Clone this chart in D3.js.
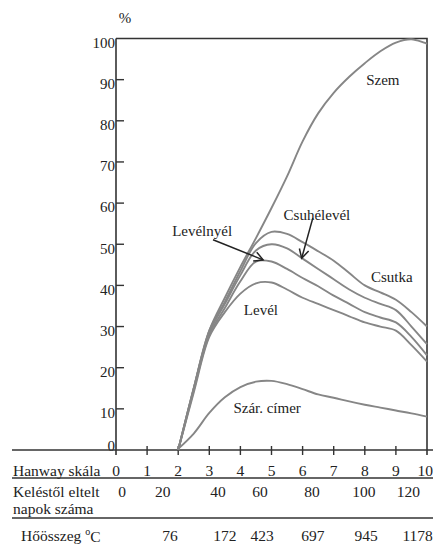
<!DOCTYPE html>
<html>
<head>
<meta charset="utf-8">
<script src="https://cdn.jsdelivr.net/npm/d3@7"></script>
<style>
body { margin: 0; background: #fff; }
text { font-family: "Liberation Serif", "DejaVu Serif", serif; fill: #222; }
</style>
</head>
<body>
<svg id="chart" width="433" height="544"></svg>
<script>
// Hanway growth stages, x positions of the curve samples
var stages = [2, 2.5, 3, 3.5, 4, 4.5, 5, 5.5, 6, 6.5, 7, 7.5, 8, 8.5, 9, 9.5, 10];

var szem       = [0, 15, 29, 37, 44.5, 51.5, 58.8, 66.5, 75, 81.8, 86.8, 90.7, 94, 96.9, 99, 99.8, 98.7];
var csutka     = [0, 15, 29, 36, 43.5, 50.3, 53, 52.5, 50.5, 48.3, 46, 43, 40, 38.3, 36.5, 33.5, 30];
var csuhelevel = [0, 15, 28.5, 35.5, 42.5, 48.5, 50, 49, 46.5, 44, 41.5, 39, 37, 35.5, 34, 30, 25.7];
var levelnyel  = [0, 14.5, 28, 34.5, 41, 45.8, 45.8, 44, 41.8, 39.8, 37.5, 35.5, 33.5, 32.2, 31, 27.5, 23];
var level      = [0, 14, 27.5, 33.5, 38, 40.5, 40.7, 39, 37, 35.5, 34, 32.5, 31, 30, 29, 25.5, 21.5];
var szarcimer  = [0.3, 4, 9, 12.8, 15.3, 16.6, 16.8, 16, 14.8, 13.5, 12.7, 11.8, 11, 10.3, 9.6, 8.9, 8.1];

var yTicks = [0, 10, 20, 30, 40, 50, 60, 70, 80, 90, 100];
var hanwayTicks = [0, 1, 2, 3, 4, 5, 6, 7, 8, 9, 10];

// days after emergence and heat sum, with the Hanway stage they stand under
var days = [0, 20, 40, 60, 80, 100, 120];
var daysStage = [0.2, 1.5, 3.28, 4.63, 6.3, 7.97, 9.4];
var heat = [76, 172, 423, 697, 945, 1178];
var heatStage = [1.74, 3.5, 4.7, 6.33, 8.04, 9.7];

// curve labels: [text, stage, percent]
var labels = [
	["Szem", 8.58, 90],
	["Csuhélevél", 6.46, 57.2],
	["Levélnyél", 2.77, 53.3],
	["Csutka", 8.87, 42.1],
	["Levél", 4.66, 34.1],
	["Szár. címer", 4.86, 10.2]
];
// arrows: [from stage, from %, to stage, to %]
var arrows = [
	[3.12, 51.1, 4.73, 46.2],
	[6.33, 56.4, 5.97, 46.6]
];

var svg = d3.select("#chart");
var x = d3.scaleLinear().domain([0, 10]).range([116, 427]);
var y = d3.scaleLinear().domain([0, 100]).range([450, 38.5]);
var axisColor = "#333";

// frame: top and right
svg.append("path")
	.attr("d", "M" + x(0) + "," + y(100) + "H" + x(10) + "V" + (y(0) + 5))
	.attr("fill", "none").attr("stroke", axisColor).attr("stroke-width", 1.6);

// y axis
svg.append("line")
	.attr("x1", x(0)).attr("x2", x(0)).attr("y1", y(100)).attr("y2", y(0) + 5)
	.attr("stroke", axisColor).attr("stroke-width", 1.6);
svg.selectAll("line.ytick").data(yTicks.filter(function(d) { return d > 0 && d < 100; }))
	.enter().append("line").attr("class", "ytick")
	.attr("x1", x(0)).attr("x2", x(0) + 8)
	.attr("y1", function(d) { return y(d); }).attr("y2", function(d) { return y(d); })
	.attr("stroke", axisColor).attr("stroke-width", 1.4);
svg.selectAll("text.ylab").data(yTicks)
	.enter().append("text").attr("class", "ylab")
	.attr("x", x(0) - 1)
	.attr("y", function(d) { return d === 0 ? y(d) - 4 : y(d) + 4; })
	.attr("dy", "0.35em")
	.attr("text-anchor", "end")
	.attr("font-size", 15)
	.text(function(d) { return d; });
svg.append("text").attr("x", 125).attr("y", 18).attr("dy", "0.35em")
	.attr("text-anchor", "middle").attr("font-size", 15).text("%");

// x axis line and cross ticks
svg.append("line")
	.attr("x1", 12).attr("x2", 433).attr("y1", y(0)).attr("y2", y(0))
	.attr("stroke", axisColor).attr("stroke-width", 1.6);
svg.selectAll("line.xtick").data(hanwayTicks.slice(1, 10))
	.enter().append("line").attr("class", "xtick")
	.attr("x1", function(d) { return x(d); }).attr("x2", function(d) { return x(d); })
	.attr("y1", y(0) - 4).attr("y2", y(0) + 5)
	.attr("stroke", axisColor).attr("stroke-width", 1.4);

// curves
var line = d3.line()
	.x(function(d, i) { return x(stages[i]); })
	.y(function(d) { return y(d); })
	.curve(d3.curveCatmullRom.alpha(0.5));
[szem, csutka, csuhelevel, levelnyel, level, szarcimer].forEach(function(s) {
	svg.append("path").datum(s)
		.attr("d", line)
		.attr("fill", "none")
		.attr("stroke", "#868686")
		.attr("stroke-width", 1.9);
});

// curve labels
svg.selectAll("text.clab").data(labels)
	.enter().append("text").attr("class", "clab")
	.attr("x", function(d) { return x(d[1]); })
	.attr("y", function(d) { return y(d[2]); })
	.attr("dy", "0.35em")
	.attr("text-anchor", "middle")
	.attr("font-size", 15)
	.text(function(d) { return d[0]; });

// arrows with open heads
arrows.forEach(function(a) {
	var x1 = x(a[0]), y1 = y(a[1]), x2 = x(a[2]), y2 = y(a[3]);
	var ang = Math.atan2(y2 - y1, x2 - x1);
	var head = 10, spread = 0.5;
	svg.append("line")
		.attr("x1", x1).attr("y1", y1).attr("x2", x2).attr("y2", y2)
		.attr("stroke", "#222").attr("stroke-width", 1.5);
	svg.append("path")
		.attr("d", "M" + (x2 - head * Math.cos(ang - spread)) + "," + (y2 - head * Math.sin(ang - spread)) +
			"L" + x2 + "," + y2 +
			"L" + (x2 - head * Math.cos(ang + spread)) + "," + (y2 - head * Math.sin(ang + spread)))
		.attr("fill", "none").attr("stroke", "#222").attr("stroke-width", 1.5);
});

// table rows under the axis
var rowFont = 15.5;
svg.append("text").attr("x", 13).attr("y", 471).attr("dy", "0.35em")
	.attr("font-size", rowFont).text("Hanway skála");
svg.selectAll("text.hlab").data(hanwayTicks)
	.enter().append("text").attr("class", "hlab")
	.attr("x", function(d) { return d === 10 ? 433 : x(d); }).attr("y", 471).attr("dy", "0.35em")
	.attr("text-anchor", function(d) { return d === 10 ? "end" : "middle"; })
	.attr("font-size", rowFont)
	.text(function(d) { return d; });
svg.append("line").attr("x1", 12).attr("x2", 433).attr("y1", 478).attr("y2", 478)
	.attr("stroke", axisColor).attr("stroke-width", 1.4);

svg.append("text").attr("x", 13).attr("y", 492).attr("dy", "0.35em")
	.attr("font-size", rowFont).text("Keléstől eltelt");
svg.append("text").attr("x", 13).attr("y", 509).attr("dy", "0.35em")
	.attr("font-size", rowFont).text("napok száma");
svg.selectAll("text.dlab").data(days)
	.enter().append("text").attr("class", "dlab")
	.attr("x", function(d, i) { return x(daysStage[i]); }).attr("y", 492).attr("dy", "0.35em")
	.attr("text-anchor", "middle").attr("font-size", rowFont)
	.text(function(d) { return d; });
svg.append("line").attr("x1", 12).attr("x2", 433).attr("y1", 518).attr("y2", 518)
	.attr("stroke", axisColor).attr("stroke-width", 1.4);

var hs = svg.append("text").attr("x", 21).attr("y", 536).attr("dy", "0.35em")
	.attr("font-size", rowFont);
hs.append("tspan").text("Hőösszeg ");
hs.append("tspan").attr("font-size", 10).attr("dy", "-0.6em").text("o");
hs.append("tspan").attr("dy", "0.45em").text("C");
svg.selectAll("text.tlab").data(heat)
	.enter().append("text").attr("class", "tlab")
	.attr("x", function(d, i) { return x(heatStage[i]); }).attr("y", 536).attr("dy", "0.35em")
	.attr("text-anchor", "middle").attr("font-size", rowFont)
	.text(function(d) { return d; });
</script>
</body>
</html>
